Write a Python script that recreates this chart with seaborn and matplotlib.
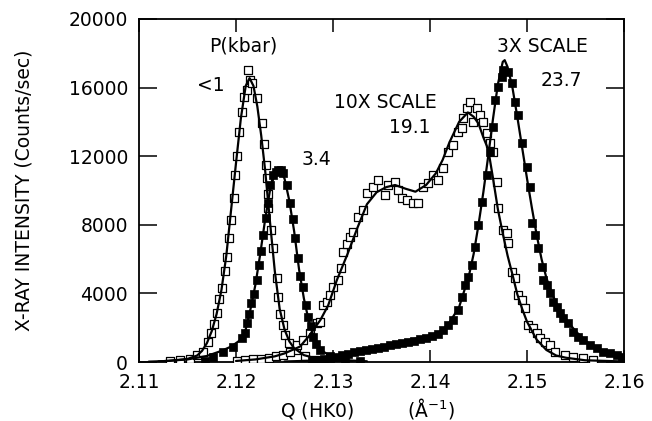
import matplotlib
matplotlib.use("Agg")
import matplotlib.pyplot as plt
import seaborn as sns

# measured points, Q in 1/A, intensity in counts/sec
# <1 kbar (open squares)
a_q = [2.11320, 2.11423, 2.11526, 2.11598, 2.11663, 2.11714, 2.11745, 2.11776, 2.11801, 2.11828,
       2.11856, 2.11884, 2.11904, 2.11925, 2.11948, 2.11976, 2.11993, 2.12010, 2.12034, 2.12062,
       2.12082, 2.12110, 2.12121, 2.12144, 2.12165, 2.12213, 2.12265, 2.12289, 2.12306, 2.12316,
       2.12325, 2.12333, 2.12361, 2.12385, 2.12420, 2.12436, 2.12454, 2.12481, 2.12508, 2.12549,
       2.12619, 2.12711, 2.12814]
a_i = [60, 110, 200, 380, 600, 1180, 1690, 2220, 2860, 3670,
       4310, 5320, 6120, 7230, 8280, 9540, 10900, 12010, 13410, 14580,
       15450, 15860, 17030, 16440, 16270, 15390, 13930, 12710, 11490, 10700,
       9800, 8980, 7700, 6650, 4900, 3800, 2800, 2160, 1570, 1110,
       700, 350, 120]
a_fit_q = [2.1110, 2.1130, 2.1150, 2.1160, 2.1165, 2.1170, 2.1175, 2.1180, 2.1185, 2.1190,
           2.1195, 2.1200, 2.1205, 2.1210, 2.1214, 2.1218, 2.1222, 2.1226, 2.1230, 2.1235,
           2.1240, 2.1245, 2.1250, 2.1255, 2.1260, 2.1270, 2.1285, 2.1300, 2.1320]
a_fit_i = [20, 60, 180, 380, 650, 1100, 1800, 2800, 4200, 6200,
           8900, 11600, 14200, 16100, 16550, 16100, 14900, 13200, 11200, 8200,
           5300, 3100, 1900, 1200, 800, 400, 180, 80, 30]

# 3.4 kbar (filled squares)
b_q = [2.11680, 2.11763, 2.11866, 2.11972, 2.12059, 2.12090, 2.12110, 2.12131, 2.12152, 2.12186,
       2.12213, 2.12237, 2.12261, 2.12281, 2.12309, 2.12330, 2.12351, 2.12381, 2.12412, 2.12436,
       2.12459, 2.12481, 2.12523, 2.12557, 2.12585, 2.12608, 2.12636, 2.12660, 2.12694, 2.12722,
       2.12745, 2.12770, 2.12797, 2.12825, 2.12866, 2.12969, 2.13124, 2.13278]
b_i = [60, 310, 600, 890, 1380, 1670, 2260, 2800, 3460, 3970,
       4780, 5660, 6490, 7400, 8400, 9300, 10300, 10900, 11100, 11190,
       11200, 11000, 10320, 9270, 8320, 7210, 6050, 5010, 4400, 3300,
       2640, 2100, 1470, 1050, 700, 350, 120, 40]
b_fit_q = [2.1120, 2.1150, 2.1170, 2.1185, 2.1195, 2.1205, 2.1210, 2.1215, 2.1220, 2.1225,
           2.1230, 2.1235, 2.1240, 2.1245, 2.1250, 2.1255, 2.1260, 2.1265, 2.1270, 2.1275,
           2.1280, 2.1285, 2.1290, 2.1300, 2.1315, 2.1335]
b_fit_i = [30, 150, 350, 650, 900, 1300, 1900, 3100, 4500, 6300,
           8300, 10000, 11000, 11250, 10700, 9400, 7600, 5400, 3700, 2400,
           1500, 950, 600, 280, 100, 40]

# 19.1 kbar, 10x scale (open squares)
c_q = [2.12010, 2.12093, 2.12175, 2.12258, 2.12340, 2.12412, 2.12488, 2.12557, 2.12626, 2.12694,
       2.12760, 2.12832, 2.12866, 2.12900, 2.12935, 2.12969, 2.13003, 2.13055, 2.13080, 2.13106,
       2.13141, 2.13175, 2.13209, 2.13261, 2.13312, 2.13347, 2.13415, 2.13467, 2.13536, 2.13570,
       2.13639, 2.13673, 2.13708, 2.13760, 2.13828, 2.13879, 2.13931, 2.13983, 2.14034, 2.14086,
       2.14137, 2.14189, 2.14240, 2.14290, 2.14327, 2.14343, 2.14378, 2.14412, 2.14446, 2.14481,
       2.14515, 2.14549, 2.14585, 2.14619, 2.14653, 2.14688, 2.14704, 2.14756, 2.14791, 2.14807,
       2.14842, 2.14876, 2.14910, 2.14945, 2.14979, 2.15013, 2.15065, 2.15100, 2.15134, 2.15186,
       2.15237, 2.15289, 2.15392, 2.15477, 2.15580, 2.15684]
c_i = [80, 110, 150, 200, 260, 330, 410, 600, 990, 1280,
       1700, 2260, 2350, 3320, 3520, 3910, 4390, 4780, 5500, 6430,
       6870, 7300, 7600, 8470, 8860, 9830, 10220, 10610, 9740, 10320,
       10510, 10030, 9540, 9440, 9250, 9250, 10220, 10420, 10900, 10610,
       11290, 12260, 12650, 13400, 13620, 14250, 14790, 15150, 14010, 14790,
       14400, 14010, 13330, 12750, 12260, 10510, 8960, 7700, 7500, 6920,
       5270, 4880, 3910, 3610, 3130, 2160, 1960, 1670, 1380, 1180,
       990, 600, 410, 310, 210, 120]
c_fit_q = [2.1200, 2.1220, 2.1240, 2.1250, 2.1260, 2.1266, 2.1275, 2.1287, 2.1295, 2.1304,
           2.1315, 2.1325, 2.1335, 2.1345, 2.1355, 2.1364, 2.1375, 2.1385, 2.1396, 2.1406,
           2.1413, 2.1420, 2.1430, 2.1439, 2.1445, 2.1450, 2.1455, 2.1460, 2.1465, 2.1470,
           2.1475, 2.1480, 2.1485, 2.1490, 2.1495, 2.1500, 2.1510, 2.1520, 2.1530, 2.1540,
           2.1560, 2.1600]
c_fit_i = [60, 150, 330, 500, 750, 900, 1500, 2450, 3300, 4780,
           6300, 7800, 9200, 9900, 10200, 10320, 10100, 9930, 10320, 11000,
           11780, 12800, 14000, 14550, 14300, 13900, 13100, 12400, 10700, 8900,
           7500, 6200, 5100, 3950, 3100, 2350, 1300, 700, 380, 250,
           100, 30]

# 23.7 kbar, 3x scale (filled squares)
d_q = [2.12784, 2.12845, 2.12907, 2.12969, 2.13031, 2.13093, 2.13155, 2.13216, 2.13278, 2.13340,
       2.13402, 2.13464, 2.13526, 2.13588, 2.13649, 2.13711, 2.13773, 2.13835, 2.13897, 2.13959,
       2.14021, 2.14082, 2.14137, 2.14189, 2.14240, 2.14292, 2.14327, 2.14361, 2.14395, 2.14430,
       2.14464, 2.14498, 2.14533, 2.14585, 2.14619, 2.14653, 2.14670, 2.14704, 2.14739, 2.14756,
       2.14807, 2.14842, 2.14876, 2.14910, 2.14945, 2.14997, 2.15031, 2.15048, 2.15082, 2.15116,
       2.15152, 2.15168, 2.15203, 2.15237, 2.15271, 2.15306, 2.15340, 2.15374, 2.15426, 2.15477,
       2.15529, 2.15580, 2.15649, 2.15718, 2.15787, 2.15856, 2.15925, 2.15976]
d_i = [60, 120, 180, 240, 310, 400, 480, 560, 620, 700,
       760, 840, 900, 970, 1030, 1090, 1180, 1240, 1330, 1420,
       1520, 1650, 1870, 2160, 2450, 3030, 3810, 4490, 4970, 5660,
       6720, 7990, 9350, 10900, 12260, 13720, 15280, 16050, 16630, 17030,
       16920, 16250, 15180, 14400, 12750, 11390, 10220, 8080, 7400, 6630,
       5560, 4780, 4490, 4000, 3520, 3220, 2840, 2550, 2260, 1770,
       1470, 1280, 990, 800, 600, 510, 410, 310]
d_fit_q = [2.1250, 2.1280, 2.1300, 2.1320, 2.1340, 2.1360, 2.1380, 2.1400, 2.1410, 2.1415,
           2.1420, 2.1430, 2.1440, 2.1445, 2.1450, 2.1455, 2.1460, 2.1465, 2.1470, 2.1475,
           2.1477, 2.1480, 2.1485, 2.1490, 2.1495, 2.1500, 2.1505, 2.1510, 2.1515, 2.1520,
           2.1525, 2.1530, 2.1540, 2.1550, 2.1560, 2.1570, 2.1580, 2.1590, 2.1600]
d_fit_i = [30, 80, 250, 550, 800, 1050, 1300, 1550, 1750, 1950,
           2300, 3200, 5000, 6300, 8000, 9900, 12000, 14200, 16200, 17500,
           17600, 17200, 16000, 14300, 12500, 10700, 9000, 7400, 6000, 4900,
           4100, 3450, 2500, 1800, 1250, 850, 580, 420, 300]

x_ticks = [2.11, 2.12, 2.13, 2.14, 2.15, 2.16]
x_tick_labels = ["2.11", "2.12", "2.13", "2.14", "2.15", "2.16"]
y_ticks = [0, 4000, 8000, 12000, 16000, 20000]

# labels written inside the plot: (text, Q, intensity)
annotations = [
    ("P(kbar)", 2.12077, 18420),
    ("<1", 2.11737, 16120),
    ("3.4", 2.12830, 11780),
    ("10X SCALE", 2.13536, 15160),
    ("19.1", 2.13789, 13670),
    ("3X SCALE", 2.15160, 18390),
    ("23.7", 2.15356, 16440),
]

sns.set_theme(style="ticks")
plt.rcParams["font.family"] = "DejaVu Sans"

fig = plt.figure(figsize=(6.52, 4.21), dpi=100)
ax = fig.add_axes([139 / 652, 59 / 421, 485 / 652, 343 / 421])

# fitted curves
for q, i in [(a_fit_q, a_fit_i), (b_fit_q, b_fit_i), (c_fit_q, c_fit_i), (d_fit_q, d_fit_i)]:
    sns.lineplot(x=q, y=i, ax=ax, color="black", linewidth=1.6, estimator=None, sort=False, zorder=4)

# data points
for q, i in [(a_q, a_i), (c_q, c_i)]:
    sns.scatterplot(x=q, y=i, ax=ax, marker="s", s=30, color="black",
                    facecolor="white", edgecolor="black", linewidth=0.9, zorder=3)
for q, i in [(b_q, b_i), (d_q, d_i)]:
    sns.scatterplot(x=q, y=i, ax=ax, marker="s", s=30, color="black",
                    edgecolor="black", linewidth=0.5, zorder=3)

for txt, q, i in annotations:
    ax.text(q, i, txt, ha="center", va="center", fontsize=13.5, color="black")

ax.set_xlim(2.11, 2.16)
ax.set_ylim(0, 20000)
ax.set_xticks(x_ticks)
ax.set_xticklabels(x_tick_labels)
ax.set_yticks(y_ticks)
ax.set_yticklabels([str(v) for v in y_ticks])

ax.tick_params(axis="both", direction="in", top=True, right=True, width=1.1,
               colors="black", labelsize=13.5)
ax.tick_params(axis="x", length=9, pad=8)
ax.tick_params(axis="y", length=13, pad=8)
for sp in ax.spines.values():
    sp.set_linewidth(1.3)
    sp.set_color("black")

ax.set_xlabel("Q (HK0)         (Å$^{-1}$)", fontsize=13.5, color="black")
ax.xaxis.set_label_coords((368 - 139) / 485, -0.1)
ax.set_ylabel("X-RAY INTENSITY (Counts/sec)", fontsize=13.5, color="black")
ax.yaxis.set_label_coords((34 - 139) / 485, 0.5)

fig.savefig("out.png", dpi=100, facecolor="white")
